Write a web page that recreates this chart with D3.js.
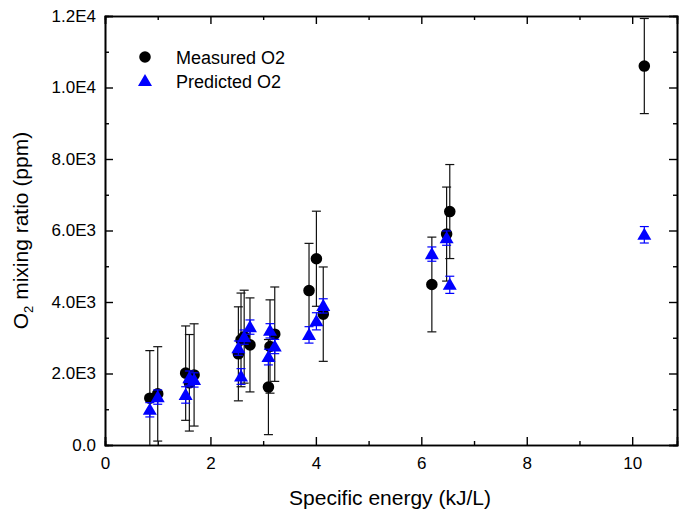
<!DOCTYPE html>
<html lang="en">
<head>
<meta charset="UTF-8">
<title>O2 mixing ratio</title>
<script src="https://cdn.jsdelivr.net/npm/d3@7"></script>
<style>
  body { margin: 0; background: #fff; }
  svg text { font-family: "Liberation Sans", Arial, sans-serif; fill: #000; }
</style>
</head>
<body>
<div id="chart"></div>
<script>
// specific energy (kJ/L) of each run
const energy = [0.85, 1.00, 1.53, 1.60, 1.69, 2.53, 2.58, 2.64, 2.75, 3.10, 3.13, 3.22, 3.87, 4.01, 4.14, 6.20, 6.48, 6.54, 10.23]
// measured O2 (ppm) and its error
const measured = [1310, 1430, 2010, 1740, 1960, 2550, 2940, 3030, 2800, 1620, 2755, 3100, 4320, 5210, 3660, 4490, 5900, 6530, 10600]
const measuredErr = [1330, 1320, 1320, 1350, 1430, 1315, 1310, 1300, 1315, 1330, 1305, 1320, 1320, 1330, 1320, 1325, 1315, 1315, 1330]
// predicted O2 (ppm) and its error
const predicted = [985, 1340, 1400, 1870, 1820, 2710, 1916, 3018, 3298, 2460, 3194, 2755, 3080, 3460, 3890, 5340, 5787, 4481, 5880]
const predictedErr = [200, 200, 230, 200, 200, 200, 220, 200, 200, 220, 200, 200, 230, 240, 200, 200, 200, 240, 230]

const yTickLabels = ['0.0', '2.0E3', '4.0E3', '6.0E3', '8.0E3', '1.0E4', '1.2E4']
const legendNames = ['Measured O2', 'Predicted O2']

const width = 680, height = 513
const pLeft = 105, pRight = 677, pTop = 16, pBottom = 445

const svg = d3.select('#chart').append('svg')
    .attr('width', width)
    .attr('height', height)

const x = d3.scaleLinear().domain([0, 10.85]).range([pLeft, pRight])
const y = d3.scaleLinear().domain([0, 12000]).range([pBottom, pTop])

svg.append('clipPath').attr('id', 'plotClip')
  .append('rect')
    .attr('x', pLeft).attr('y', pTop)
    .attr('width', pRight - pLeft).attr('height', pBottom - pTop)

// axes, ticks pointing in
const xMajor = [0, 2, 4, 6, 8, 10]
const xMinor = [1, 3, 5, 7, 9]
const yMajor = d3.range(0, 12001, 2000)
const yMinor = d3.range(1000, 12000, 2000)

svg.append('g').attr('transform', `translate(0,${pBottom})`)
  .call(d3.axisBottom(x).tickValues(xMajor).tickSize(-8).tickPadding(12).tickFormat(d3.format('d')))
svg.append('g').attr('transform', `translate(0,${pBottom})`)
  .call(d3.axisBottom(x).tickValues(xMinor).tickSize(-4).tickFormat(''))
svg.append('g').attr('transform', `translate(0,${pTop})`)
  .call(d3.axisTop(x).tickValues(xMajor).tickSize(-8).tickFormat(''))
svg.append('g').attr('transform', `translate(0,${pTop})`)
  .call(d3.axisTop(x).tickValues(xMinor).tickSize(-4).tickFormat(''))

svg.append('g').attr('transform', `translate(${pLeft},0)`)
  .call(d3.axisLeft(y).tickValues(yMajor).tickSize(-8).tickPadding(9).tickFormat((d, i) => yTickLabels[i]))
svg.append('g').attr('transform', `translate(${pLeft},0)`)
  .call(d3.axisLeft(y).tickValues(yMinor).tickSize(-4).tickFormat(''))
svg.append('g').attr('transform', `translate(${pRight},0)`)
  .call(d3.axisRight(y).tickValues(yMajor).tickSize(-8).tickFormat(''))
svg.append('g').attr('transform', `translate(${pRight},0)`)
  .call(d3.axisRight(y).tickValues(yMinor).tickSize(-4).tickFormat(''))

svg.selectAll('.domain').attr('stroke', '#000').attr('stroke-width', 1.6)
svg.selectAll('.tick line').attr('stroke', '#000').attr('stroke-width', 1.4)
svg.selectAll('.tick text').style('font-size', '17px').attr('fill', '#000')

// axis titles
svg.append('text')
    .attr('x', (pLeft + pRight) / 2 - 1)
    .attr('y', 505)
    .attr('text-anchor', 'middle')
    .style('font-size', '21px')
    .text('Specific energy (kJ/L)')

let yt = svg.append('text')
    .attr('transform', `translate(28,${(pTop + pBottom) / 2}) rotate(-90)`)
    .attr('text-anchor', 'middle')
    .style('font-size', '21px')
yt.append('tspan').text('O')
yt.append('tspan').text('2').style('font-size', '13px').attr('dy', 5)
yt.append('tspan').text(' mixing ratio (ppm)').attr('dy', -5)

// error bars helper
function errorBars(vals, errs, color) {
    let g = svg.append('g').attr('clip-path', 'url(#plotClip)')
    let bars = g.selectAll('g').data(energy).join('g')
    bars.append('line')
        .attr('x1', d => x(d)).attr('x2', d => x(d))
        .attr('y1', (d, i) => y(vals[i] - errs[i]))
        .attr('y2', (d, i) => y(vals[i] + errs[i]))
    bars.append('line')
        .attr('x1', d => x(d) - 4.5).attr('x2', d => x(d) + 4.5)
        .attr('y1', (d, i) => y(vals[i] + errs[i]))
        .attr('y2', (d, i) => y(vals[i] + errs[i]))
    bars.append('line')
        .attr('x1', d => x(d) - 4.5).attr('x2', d => x(d) + 4.5)
        .attr('y1', (d, i) => y(vals[i] - errs[i]))
        .attr('y2', (d, i) => y(vals[i] - errs[i]))
    bars.selectAll('line').attr('stroke', color).attr('stroke-width', 1.2)
}

const circle = d3.symbol().type(d3.symbolCircle).size(105)
const tri = d3.symbol().type(d3.symbolTriangle).size(85)

errorBars(measured, measuredErr, '#111')
svg.append('g').selectAll('path')
    .data(energy)
    .join('path')
    .attr('d', circle)
    .attr('transform', (d, i) => `translate(${x(d)},${y(measured[i])})`)
    .attr('fill', '#000')

errorBars(predicted, predictedErr, '#0000ff')
svg.append('g').selectAll('path')
    .data(energy)
    .join('path')
    .attr('d', tri)
    .attr('transform', (d, i) => `translate(${x(d)},${y(predicted[i]) + 1})`)
    .attr('fill', '#0000ff')

// legend
let legend = svg.append('g')
legend.append('path').attr('d', circle).attr('transform', 'translate(145,57)').attr('fill', '#000')
legend.append('path').attr('d', tri).attr('transform', 'translate(145,82)').attr('fill', '#0000ff')
legend.selectAll('text')
    .data(legendNames)
    .join('text')
    .attr('x', 176)
    .attr('y', (d, i) => 64 + i * 24)
    .style('font-size', '18px')
    .text(d => d)
</script>
</body>
</html>
